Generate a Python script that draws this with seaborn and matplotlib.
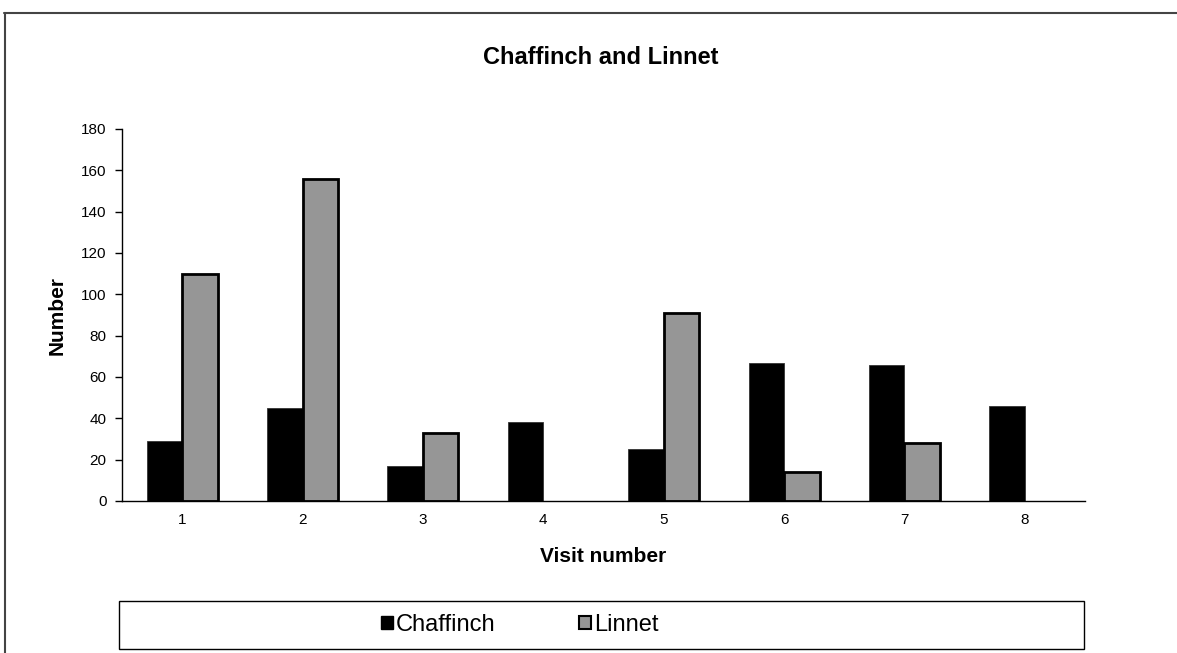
import numpy as np
import pandas as pd
import matplotlib
matplotlib.use("Agg")
import matplotlib.pyplot as plt
import seaborn as sns
from matplotlib.patches import Patch, Rectangle
from matplotlib.lines import Line2D

visits = ["1", "2", "3", "4", "5", "6", "7", "8"]
chaffinch = [29, 45, 17, 38, 25, 67, 66, 46]
linnet = [110, 156, 33, None, 91, 14, 28, None]
species = ["Chaffinch", "Linnet"]
colors = {"Chaffinch": "#000000", "Linnet": "#969696"}

df = pd.DataFrame({
    "Visit": visits * 2,
    "Species": ["Chaffinch"] * len(visits) + ["Linnet"] * len(visits),
    "Count": [np.nan if v is None else v for v in chaffinch + linnet],
})

sns.set_theme(style="white")
plt.rcParams["font.family"] = ["Liberation Sans", "DejaVu Sans"]
plt.rcParams["text.color"] = "black"
plt.rcParams["axes.labelcolor"] = "black"

W, H = 1177, 653
fig = plt.figure(figsize=(W / 100, H / 100), dpi=100)
ax = fig.add_axes([122 / W, (H - 501) / H, (1085 - 122) / W, (501 - 129) / H])

sns.barplot(data=df, x="Visit", y="Count", hue="Species", order=visits,
            hue_order=species, palette=colors, width=0.59, gap=0,
            saturation=1, ax=ax, legend=False)

for bar in ax.containers[0]:
    bar.set_edgecolor("#333333")
    bar.set_linewidth(0.6)
for bar in ax.containers[1]:
    bar.set_edgecolor("black")
    bar.set_linewidth(2)

ax.set_xlim(-0.5, 7.5)
ax.set_ylim(0, 180)
ax.set_yticks(range(0, 181, 20))
ax.set_xticks(np.arange(-0.5, 8, 1), minor=True)
ax.tick_params(axis="x", which="major", length=0, labelsize=11, pad=9,
               colors="black", labelcolor="black")
ax.tick_params(axis="x", which="minor", length=5, width=1, direction="out", color="black")
ax.tick_params(axis="y", length=5, width=1, direction="out", labelsize=11, pad=6,
               colors="black", labelcolor="black", left=True)
for side in ["top", "right"]:
    ax.spines[side].set_visible(False)
for side in ["left", "bottom"]:
    ax.spines[side].set_color("black")
    ax.spines[side].set_linewidth(1)

ax.set_xlabel("")
ax.set_ylabel("")
fig.text(603 / W, 1 - 557 / H, "Visit number", ha="center", va="center",
         fontsize=15, fontweight="bold", color="black")
fig.text(57 / W, 1 - 315 / H, "Number", ha="center", va="center", rotation=90,
         fontsize=15, fontweight="bold", color="black")
fig.text(601 / W, 1 - 57 / H, "Chaffinch and Linnet", ha="center", va="center",
         fontsize=17, fontweight="bold", color="black")

# outer chart frame (top and left edges visible)
fig.add_artist(Line2D([4 / W, 1.0], [1 - 13 / H, 1 - 13 / H], transform=fig.transFigure,
                      color="#444444", lw=1.5))
fig.add_artist(Line2D([5 / W, 5 / W], [1 - 13 / H, 0], transform=fig.transFigure,
                      color="#444444", lw=1.5))

# legend box
fig.add_artist(Rectangle((119 / W, 1 - 649 / H), (1084 - 119) / W, (649 - 601) / H,
                         transform=fig.transFigure, fill=False, edgecolor="black", lw=1))
handles = [Patch(facecolor=colors["Chaffinch"], edgecolor="black", lw=1),
           Patch(facecolor=colors["Linnet"], edgecolor="black", lw=1.5)]
leg = fig.legend(handles, species, loc="center left", bbox_to_anchor=(381 / W, 1 - 625 / H),
                 ncol=2, frameon=False, fontsize=17, borderpad=0, borderaxespad=0,
                 handlelength=0.5, handleheight=0.5, handletextpad=0.12, columnspacing=3.55)
for t in leg.get_texts():
    t.set_color("black")

fig.savefig("out.png", dpi=100)
